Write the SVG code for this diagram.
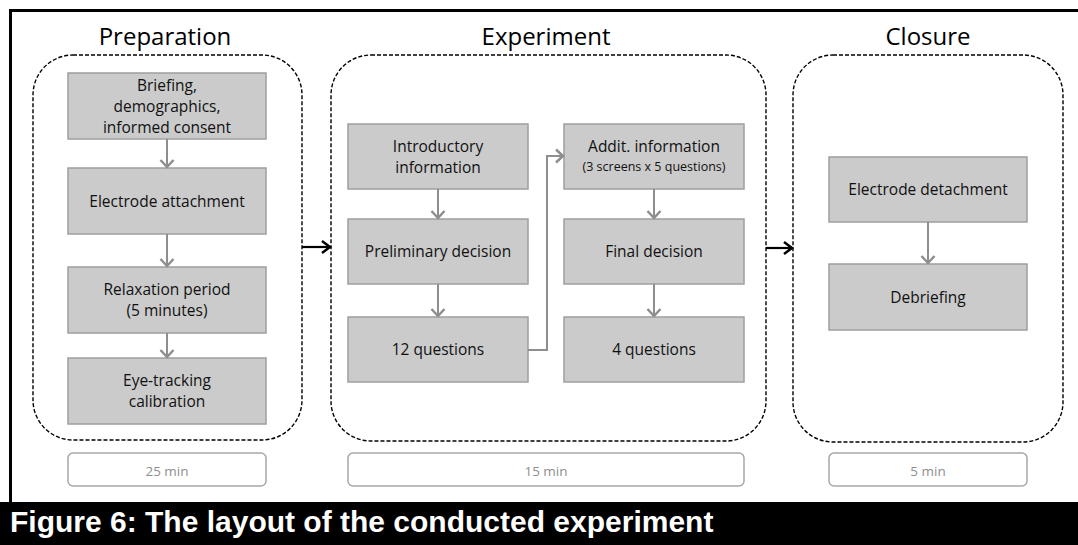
<svg xmlns="http://www.w3.org/2000/svg" width="1078" height="545" viewBox="0 0 1078 545">
  <style>
    .frame { stroke: #000; stroke-width: 3; fill: none; }
    .phase { fill: none; stroke: #000; stroke-width: 1.4; stroke-dasharray: 4 2; }
    .title { font-family: "Open Sans", "Liberation Sans", sans-serif; font-size: 24px; fill: #000; text-anchor: middle; }
    .box { fill: #cbcbcb; stroke: #9f9f9f; stroke-width: 1.5; }
    .lbl { font-family: "Open Sans", "Liberation Sans", sans-serif; font-size: 15.5px; fill: #111; text-anchor: middle; }
    .sm { font-size: 12.5px; }
    .dur { fill: #fff; stroke: #a8a8a8; stroke-width: 1.5; }
    .durtxt { font-family: "Open Sans", "Liberation Sans", sans-serif; font-size: 13.5px; fill: #8e8e8e; text-anchor: middle; }
    .flow { fill: none; stroke: #8e8e8e; stroke-width: 2; }
    .phaseflow { fill: none; stroke: #000; stroke-width: 2.2; }
    .caption { font-family: "Liberation Sans", Arial, sans-serif; font-weight: bold; font-size: 30px; fill: #fff; }
  </style>
  <defs>
    <marker id="chevGray" markerUnits="userSpaceOnUse" markerWidth="14" markerHeight="16" viewBox="0 0 14 16" refX="12" refY="8" orient="auto">
      <path d="M5,1.5 L12,8 L5,14.5" fill="none" stroke="#8e8e8e" stroke-width="2.5"/>
    </marker>
    <marker id="chevBlack" markerUnits="userSpaceOnUse" markerWidth="14" markerHeight="16" viewBox="0 0 14 16" refX="12" refY="8" orient="auto">
      <path d="M4,2 L12,8 L4,14" fill="none" stroke="#000" stroke-width="2.5"/>
    </marker>
  </defs>

  <rect width="1078" height="545" fill="#fff"/>

  <!-- figure frame -->
  <path class="frame" d="M10.5,502 V10.5 H1078"/>

  <!-- phase containers -->
  <g id="phase-preparation">
    <rect class="phase" x="33" y="55" width="269" height="385" rx="40" ry="40"/>
    <text class="title" x="165" y="45">Preparation</text>
  </g>
  <g id="phase-experiment">
    <rect class="phase" x="331" y="55" width="435" height="386" rx="40" ry="40"/>
    <text class="title" x="546" y="45">Experiment</text>
  </g>
  <g id="phase-closure">
    <rect class="phase" x="793" y="55" width="270" height="387" rx="40" ry="40"/>
    <text class="title" x="928" y="45">Closure</text>
  </g>

  <!-- preparation steps -->
  <g id="briefing">
    <rect class="box" x="68" y="73" width="198" height="66"/>
    <text class="lbl" x="167" y="90.5">Briefing,</text>
    <text class="lbl" x="167" y="111.5">demographics,</text>
    <text class="lbl" x="167" y="132.5">informed consent</text>
  </g>
  <g id="electrode-attachment">
    <rect class="box" x="68" y="168" width="198" height="66"/>
    <text class="lbl" x="167" y="206.5">Electrode attachment</text>
  </g>
  <g id="relaxation">
    <rect class="box" x="68" y="267" width="198" height="66"/>
    <text class="lbl" x="167" y="295">Relaxation period</text>
    <text class="lbl" x="167" y="316">(5 minutes)</text>
  </g>
  <g id="calibration">
    <rect class="box" x="68" y="358" width="198" height="66"/>
    <text class="lbl" x="167" y="386">Eye-tracking</text>
    <text class="lbl" x="167" y="407">calibration</text>
  </g>

  <!-- experiment steps -->
  <g id="intro-info">
    <rect class="box" x="348" y="124" width="180" height="65"/>
    <text class="lbl" x="438" y="151.5">Introductory</text>
    <text class="lbl" x="438" y="172.5">information</text>
  </g>
  <g id="preliminary-decision">
    <rect class="box" x="348" y="219" width="180" height="65"/>
    <text class="lbl" x="438" y="257">Preliminary decision</text>
  </g>
  <g id="twelve-questions">
    <rect class="box" x="348" y="317" width="180" height="65"/>
    <text class="lbl" x="438" y="355">12 questions</text>
  </g>
  <g id="addit-info">
    <rect class="box" x="564" y="124" width="180" height="65"/>
    <text class="lbl" x="654" y="152">Addit. information</text>
    <text class="lbl sm" x="654" y="171">(3 screens x 5 questions)</text>
  </g>
  <g id="final-decision">
    <rect class="box" x="564" y="219" width="180" height="65"/>
    <text class="lbl" x="654" y="257">Final decision</text>
  </g>
  <g id="four-questions">
    <rect class="box" x="564" y="317" width="180" height="65"/>
    <text class="lbl" x="654" y="355">4 questions</text>
  </g>

  <!-- closure steps -->
  <g id="electrode-detachment">
    <rect class="box" x="829" y="157" width="198" height="65"/>
    <text class="lbl" x="928" y="195">Electrode detachment</text>
  </g>
  <g id="debriefing">
    <rect class="box" x="829" y="264" width="198" height="66"/>
    <text class="lbl" x="928" y="302.5">Debriefing</text>
  </g>

  <!-- durations -->
  <g id="duration-preparation">
    <rect class="dur" x="68" y="453" width="198" height="33" rx="5"/>
    <text class="durtxt" x="167" y="476">25 min</text>
  </g>
  <g id="duration-experiment">
    <rect class="dur" x="348" y="453" width="396" height="33" rx="5"/>
    <text class="durtxt" x="546" y="476">15 min</text>
  </g>
  <g id="duration-closure">
    <rect class="dur" x="829" y="453" width="198" height="33" rx="5"/>
    <text class="durtxt" x="928" y="476">5 min</text>
  </g>

  <!-- connectors -->
  <g id="connectors">
    <path class="flow" d="M167,139 V167" marker-end="url(#chevGray)"/>
    <path class="flow" d="M167,234 V266" marker-end="url(#chevGray)"/>
    <path class="flow" d="M167,333 V357" marker-end="url(#chevGray)"/>
    <path class="flow" d="M438,189 V218" marker-end="url(#chevGray)"/>
    <path class="flow" d="M438,284 V316" marker-end="url(#chevGray)"/>
    <path class="flow" d="M528,350 H547 V156 H563" marker-end="url(#chevGray)"/>
    <path class="flow" d="M654,189 V218" marker-end="url(#chevGray)"/>
    <path class="flow" d="M654,284 V316" marker-end="url(#chevGray)"/>
    <path class="flow" d="M928,222 V263" marker-end="url(#chevGray)"/>
    <path class="phaseflow" d="M302,247 H330" marker-end="url(#chevBlack)"/>
    <path class="phaseflow" d="M766,248 H792" marker-end="url(#chevBlack)"/>
  </g>

  <!-- caption -->
  <rect x="0" y="502" width="1078" height="43" fill="#000"/>
  <text class="caption" x="10" y="532">Figure 6: The layout of the conducted experiment</text>
</svg>
